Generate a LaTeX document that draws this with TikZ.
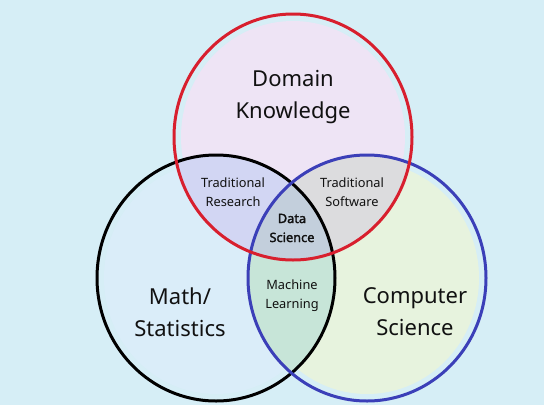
\documentclass[tikz,border=0pt]{standalone}
\usepackage{fontspec}
\setmainfont{Noto Sans}
\newfontfamily\dsbold{Noto Sans}[FakeBold=2]
\definecolor{bg}{HTML}{D6EEF6}
\definecolor{fR}{HTML}{EEE4F5}
\definecolor{fK}{HTML}{DAEDF9}
\definecolor{fB}{HTML}{E7F3DE}
\definecolor{fRK}{HTML}{D2D6F3}
\definecolor{fRB}{HTML}{DCDCDE}
\definecolor{fKB}{HTML}{C7E5D8}
\definecolor{fRKB}{HTML}{C3CFDC}
\definecolor{sR}{HTML}{D81F2E}
\definecolor{sB}{HTML}{3B3FB8}
\definecolor{txt}{HTML}{111111}
\tikzset{
  full/.style={x radius=119pt, y radius=123pt},
  inset/.style={x radius=112pt, y radius=116pt},
  ring/.style={line width=3pt},
  bigtext/.style={align=center, text=txt, font=\fontsize{22}{32}\selectfont, inner sep=0pt},
  smalltext/.style={align=center, text=txt, font=\fontsize{12.8}{19}\selectfont, inner sep=0pt},
}
\begin{document}
\begin{tikzpicture}[x=1pt,y=-1pt]
\fill[bg] (0,0) rectangle (544,405);
\useasboundingbox (0,0) rectangle (544,405);
\coordinate (cR) at (293,137);
\coordinate (cK) at (216,278);
\coordinate (cB) at (367,278);
% single fills
\fill[fR] (cR) ellipse[inset];
\fill[fK] (cK) ellipse[inset];
\fill[fB] (cB) ellipse[inset];
% pairwise
\begin{scope}
  \clip (cR) ellipse[full];
  \fill[fRK] (cK) ellipse[full];
\end{scope}
\begin{scope}
  \clip (cR) ellipse[full];
  \fill[fRB] (cB) ellipse[full];
\end{scope}
\begin{scope}
  \clip (cK) ellipse[full];
  \fill[fKB] (cB) ellipse[full];
\end{scope}
\begin{scope}
  \clip (cR) ellipse[full];
  \clip (cK) ellipse[full];
  \fill[fRKB] (cB) ellipse[full];
\end{scope}
% outlines
\draw[ring, black] (cK) ellipse[full];
\draw[ring, sB] (cB) ellipse[full];
\draw[ring, sR] (cR) ellipse[full];
% labels
\node[bigtext] (dk) at (293,97) {Domain\\Knowledge};
\node[bigtext] (ms) at (180,312) {Math/\\Statistics};
\node[bigtext] (cs) at (415,312) {Computer\\Science};
\node[smalltext] (tr) at (233,192.5) {Traditional\\Research};
\node[smalltext] (ts) at (352,192.5) {Traditional\\Software};
\node[smalltext, font=\dsbold\fontsize{12.8}{19}\selectfont] (ds) at (292,228) {Data\\Science};
\node[smalltext] (ml) at (292,295.5) {Machine\\Learning};
\end{tikzpicture}
\end{document}
